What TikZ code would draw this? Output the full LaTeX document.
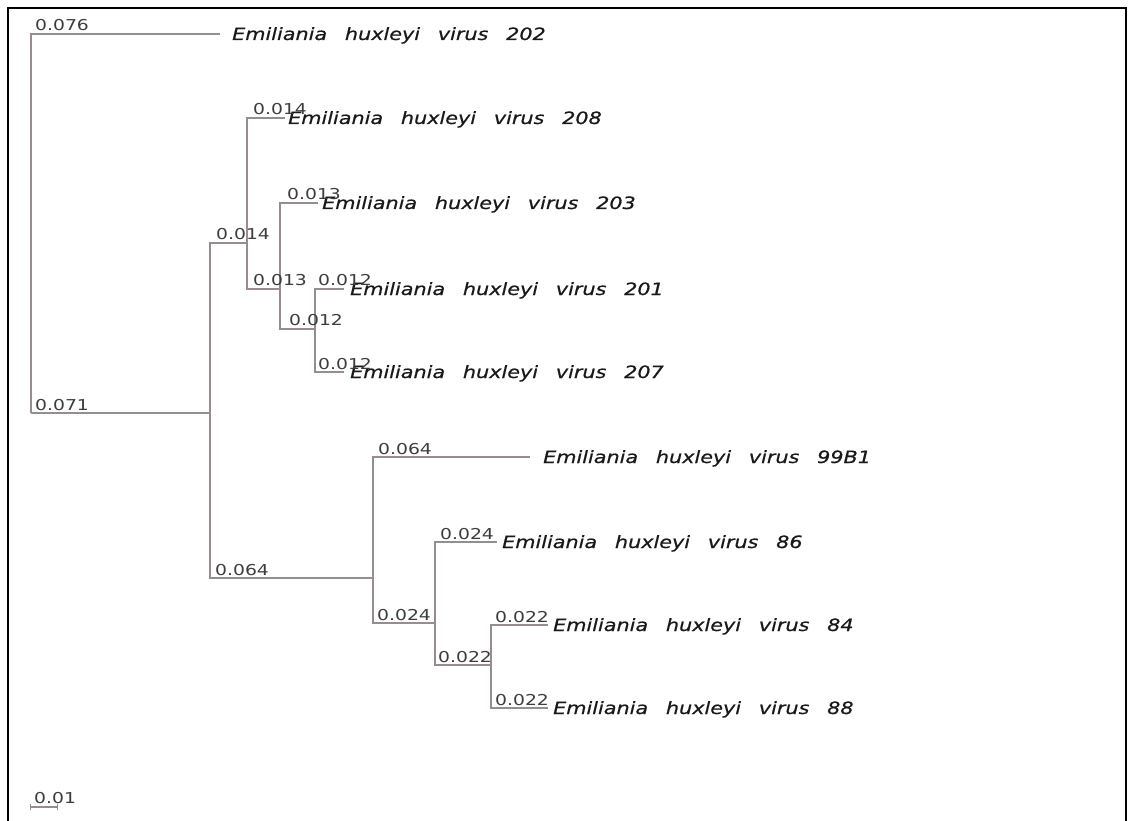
\documentclass[tikz,border=0pt]{standalone}
\usepackage{fontspec}
\newfontfamily\spfont[FakeStretch=1.22,WordSpace=2.7,FakeBold=0.6]{DejaVu Sans}
\newfontfamily\lbfont[FakeStretch=1.25]{DejaVu Sans}
\definecolor{branch}{RGB}{150,140,146}
\definecolor{sptext}{RGB}{25,25,25}
\definecolor{lbtext}{RGB}{60,60,60}
\tikzset{
  edge/.style={draw=branch, line width=1.4pt},
  species/.style={anchor=base west, inner sep=0pt, text=sptext, font=\spfont\itshape\fontsize{17}{19}\selectfont},
  blen/.style={anchor=base west, inner sep=0pt, text=lbtext, font=\lbfont\fontsize{15}{17}\selectfont},
  frame/.style={draw=black, line width=2pt}
}
\begin{document}
\begin{tikzpicture}[x=1pt,y=-1pt]
\useasboundingbox (0,0) rectangle (1128,821);
\fill[white] (0,0) rectangle (1128,821);
\draw[frame] (8,830) -- (8,8) -- (1126,8) -- (1126,830);
% internal nodes
\coordinate (R) at (31,413);
\coordinate (I1) at (210,413);
\coordinate (I2) at (247,243);
\coordinate (I3) at (280,289);
\coordinate (I4) at (315,329);
\coordinate (I5) at (373,578);
\coordinate (I6) at (435,623);
\coordinate (I7) at (491,665);
% leaf line ends
\coordinate (c202) at (220,34);
\coordinate (c208) at (285,118);
\coordinate (c203) at (318,203);
\coordinate (c201) at (344,289);
\coordinate (c207) at (344,372);
\coordinate (c99) at (530,457);
\coordinate (c86) at (497,542);
\coordinate (c84) at (548,625);
\coordinate (c88) at (548,708);
% edges
\draw[edge] (R) |- (c202);
\draw[edge] (R) |- (I1);
\draw[edge] (I1) |- (I2);
\draw[edge] (I1) |- (I5);
\draw[edge] (I2) |- (c208);
\draw[edge] (I2) |- (I3);
\draw[edge] (I3) |- (c203);
\draw[edge] (I3) |- (I4);
\draw[edge] (I4) |- (c201);
\draw[edge] (I4) |- (c207);
\draw[edge] (I5) |- (c99);
\draw[edge] (I5) |- (I6);
\draw[edge] (I6) |- (c86);
\draw[edge] (I6) |- (I7);
\draw[edge] (I7) |- (c84);
\draw[edge] (I7) |- (c88);
% species labels
\node[species] (t202) at (232,40) {Emiliania huxleyi virus 202};
\node[species] (t208) at (288,124) {Emiliania huxleyi virus 208};
\node[species] (t203) at (322,209) {Emiliania huxleyi virus 203};
\node[species] (t201) at (350,295) {Emiliania huxleyi virus 201};
\node[species] (t207) at (350,378) {Emiliania huxleyi virus 207};
\node[species] (t99) at (543,463) {Emiliania huxleyi virus 99B1};
\node[species] (t86) at (502,548) {Emiliania huxleyi virus 86};
\node[species] (t84) at (553,631) {Emiliania huxleyi virus 84};
\node[species] (t88) at (553,714) {Emiliania huxleyi virus 88};
% branch lengths
\node[blen] (b202) at (35,31) {0.076};
\node[blen] (b1) at (35,410) {0.071};
\node[blen] (b2) at (216,240) {0.014};
\node[blen] (b208) at (253,115) {0.014};
\node[blen] (b3) at (253,286) {0.013};
\node[blen] (b203) at (287,200) {0.013};
\node[blen] (b4) at (289,326) {0.012};
\node[blen] (b201) at (318,286) {0.012};
\node[blen] (b207) at (318,369) {0.012};
\node[blen] (b5) at (215,575) {0.064};
\node[blen] (b99) at (378,454) {0.064};
\node[blen] (b6) at (377,620) {0.024};
\node[blen] (b86) at (440,539) {0.024};
\node[blen] (b7) at (438,662) {0.022};
\node[blen] (b84) at (495,622) {0.022};
\node[blen] (b88) at (495,705) {0.022};
% scale bar
\coordinate (s1) at (30,807);
\coordinate (s2) at (57,807);
\draw[branch, line width=1.2pt] (s1) -- (s2);
\draw[branch, line width=1pt] ([yshift=-3pt]s1) -- ([yshift=3pt]s1);
\draw[branch, line width=1pt] ([yshift=-3pt]s2) -- ([yshift=3pt]s2);
\node[blen] (sl) at (34,803) {0.01};
\end{tikzpicture}
\end{document}
